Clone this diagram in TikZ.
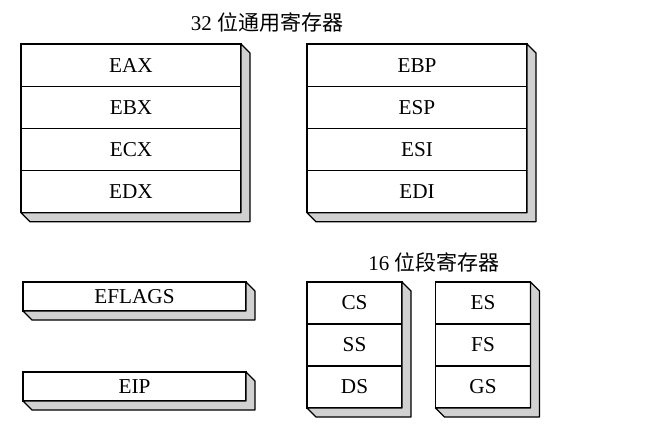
\documentclass[tikz,border=0pt]{standalone}
\usepackage{fontspec}
\setmainfont{Liberation Serif}
\newfontfamily\cjk{Noto Sans CJK SC}
\usetikzlibrary{positioning}

\tikzset{
  reg/.style={draw, rectangle, line width=0.6pt, inner sep=0pt, outer sep=0pt,
    minimum height=21.1pt, font=\fontsize{10.6}{12}\selectfont},
  wide/.style={reg, minimum width=110pt},
  narrow/.style={reg, minimum width=47.5pt, minimum height=21pt},
  long/.style={reg, minimum width=111.5pt, minimum height=14.5pt},
  side/.style={draw, line width=0.6pt, fill=black!18, line join=round},
  title/.style={font=\fontsize{10.5}{12}\selectfont}
}
\newcommand\regside[2]{\draw[side] (#1.north east) -- ([shift={(9,9)}]#1.north east) -- ([shift={(9,9)}]#2.south east) -- ([shift={(9,9)}]#2.south west) -- (#2.south west) -- (#2.south east) -- cycle;}

\begin{document}
\begin{tikzpicture}[x=0.5pt,y=-0.5pt]
\useasboundingbox (0,0) rectangle (658,428);

\node[title] (t32) at (267,22) {32 {\cjk 位通用寄存器}};

\node[wide] (eax) at (131,65.1) {EAX};
\node[wide,below=0pt of eax] (ebx) {EBX};
\node[wide,below=0pt of ebx] (ecx) {ECX};
\node[wide,below=0pt of ecx] (edx) {EDX};
\regside{eax}{edx}

\node[wide] (ebp) at (417,65.1) {EBP};
\node[wide,below=0pt of ebp] (esp) {ESP};
\node[wide,below=0pt of esp] (esi) {ESI};
\node[wide,below=0pt of esi] (edi) {EDI};
\regside{ebp}{edi}

\node[long] (eflags) at (134.5,296.5) {EFLAGS};
\regside{eflags}{eflags}
\node[long] (eip) at (134.5,386.5) {EIP};
\regside{eip}{eip}

\node[title] (t16) at (434,262) {16 {\cjk 位段寄存器}};

\node[narrow] (cs) at (354.5,303) {CS};
\node[narrow,below=0pt of cs] (ss) {SS};
\node[narrow,below=0pt of ss] (ds) {DS};
\regside{cs}{ds}

\node[narrow] (es) at (483,303) {ES};
\node[narrow,below=0pt of es] (fs) {FS};
\node[narrow,below=0pt of fs] (gs) {GS};
\regside{es}{gs}
\end{tikzpicture}
\end{document}
